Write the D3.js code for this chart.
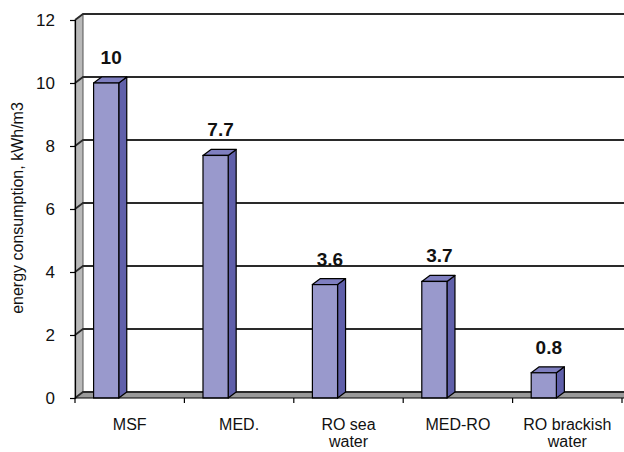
<!DOCTYPE html>
<html>
<head>
<meta charset="utf-8">
<script src="https://cdn.jsdelivr.net/npm/d3@7"></script>
<style>
  body { margin: 0; background: #fff; overflow: hidden; }
  svg { display: block; }
  text { font-family: Arial, "Liberation Sans", sans-serif; }
</style>
</head>
<body>
<script>
var width = 624;
var height = 452;

// data
var categories = ["MSF", "MED.", "RO sea water", "MED-RO", "RO brackish water"];
var values = [10, 7.7, 3.6, 3.7, 0.8];
var yTicks = [0, 2, 4, 6, 8, 10, 12];

var plotLeft = 75, plotRight = 622, plotBottom = 398, plotTop = 20;
var dx = 8, dy = -6;   // 3d depth offset

var svg = d3.select("body").append("svg")
  .attr("width", width).attr("height", height);

var x = d3.scaleBand().domain(categories).range([plotLeft, plotRight]).padding(0);
var y = d3.scaleLinear().domain([0, 12]).range([plotBottom, plotTop]);
var bw = x.bandwidth();

// left side wall
svg.append("polygon")
  .attr("points", [[plotLeft, y(12)], [plotLeft + dx, y(12) + dy], [plotLeft + dx, y(0) + dy], [plotLeft, y(0)]].join(" "))
  .attr("fill", "#b9b9b9").attr("stroke", "#555").attr("stroke-width", 1);

// floor
svg.append("polygon")
  .attr("points", [[plotLeft, y(0)], [plotLeft + dx, y(0) + dy], [width, y(0) + dy], [width, y(0)]].join(" "))
  .attr("fill", "#9a9a9a").attr("stroke", "none");

// gridlines
svg.selectAll(".grid").data(yTicks).enter().append("polyline")
  .attr("class", "grid")
  .attr("points", function(d) {
    return [[plotLeft, y(d)], [plotLeft + dx, y(d) + dy], [width, y(d) + dy]].join(" ");
  })
  .attr("fill", "none").attr("stroke", "#2a2a2a").attr("stroke-width", 1.8);

// bars
var bars = svg.selectAll(".bar").data(values).enter().append("g").attr("class", "bar");
var bx = function(i) { return x(categories[i]) + bw * 0.17; };
var bwid = bw * 0.23;

bars.append("polygon") // side
  .attr("points", function(d, i) {
    var x1 = bx(i) + bwid;
    return [[x1, y(d)], [x1 + dx, y(d) + dy], [x1 + dx, y(0) + dy], [x1, y(0)]].join(" ");
  })
  .attr("fill", "#6060aa").attr("stroke", "#000").attr("stroke-width", 1.2)
  .attr("stroke-linejoin", "round");

bars.append("polygon") // top
  .attr("points", function(d, i) {
    var x0 = bx(i), x1 = bx(i) + bwid;
    return [[x0, y(d)], [x0 + dx, y(d) + dy], [x1 + dx, y(d) + dy], [x1, y(d)]].join(" ");
  })
  .attr("fill", "#7f7fc0").attr("stroke", "#000").attr("stroke-width", 1.2)
  .attr("stroke-linejoin", "round");

bars.append("rect") // front
  .attr("x", function(d, i) { return bx(i); })
  .attr("y", function(d) { return y(d); })
  .attr("width", bwid)
  .attr("height", function(d) { return y(0) - y(d); })
  .attr("fill", "#9999cc").attr("stroke", "#000").attr("stroke-width", 1.2);

// value labels
bars.append("text")
  .attr("x", function(d, i) { return bx(i) + bwid / 2 + 5; })
  .attr("y", function(d) { return y(d) + dy - 13; })
  .attr("text-anchor", "middle")
  .attr("font-size", 19).attr("font-weight", "bold").attr("fill", "#111")
  .text(function(d) { return d; });

// y axis
var yAxis = svg.append("g").attr("transform", "translate(" + plotLeft + ",0)")
  .call(d3.axisLeft(y).tickValues(yTicks).tickSize(5).tickPadding(15));
yAxis.select(".domain").attr("stroke", "#000").attr("stroke-width", 1.2);
yAxis.selectAll(".tick line").attr("stroke", "#000").attr("stroke-width", 1.2);
yAxis.selectAll(".tick text").attr("font-size", 17).attr("fill", "#111")
  .style("font-family", "Arial, 'Liberation Sans', sans-serif");

// x axis line + ticks at band edges
svg.append("line").attr("x1", plotLeft).attr("x2", width).attr("y1", y(0)).attr("y2", y(0))
  .attr("stroke", "#000").attr("stroke-width", 1.2);
var edges = categories.map(function(c) { return x(c); }).concat([plotRight]);
svg.selectAll(".xtick").data(edges).enter().append("line")
  .attr("x1", function(d) { return d; }).attr("x2", function(d) { return d; })
  .attr("y1", y(0)).attr("y2", y(0) + 5)
  .attr("stroke", "#000").attr("stroke-width", 1.2);

// category labels
var labels = svg.selectAll(".xlab").data(categories).enter().append("text")
  .attr("class", "xlab")
  .attr("x", function(d) { return x(d) + bw / 2; })
  .attr("y", 430)
  .attr("text-anchor", "middle")
  .attr("font-size", 16).attr("fill", "#111");
labels.each(function(d) {
  var words = d.split(" ");
  var lines = words.length > 2 ? [words.slice(0, -1).join(" "), words[words.length - 1]] : [d];
  d3.select(this).selectAll("tspan").data(lines).enter().append("tspan")
    .attr("x", x(d) + bw / 2)
    .attr("dy", function(l, i) { return i === 0 ? 0 : 17; })
    .text(function(l) { return l; });
});

// y title
svg.append("text")
  .attr("transform", "translate(23,208) rotate(-90)")
  .attr("text-anchor", "middle")
  .attr("font-size", 16).attr("fill", "#111")
  .text("energy consumption, kWh/m3");
</script>
</body>
</html>
